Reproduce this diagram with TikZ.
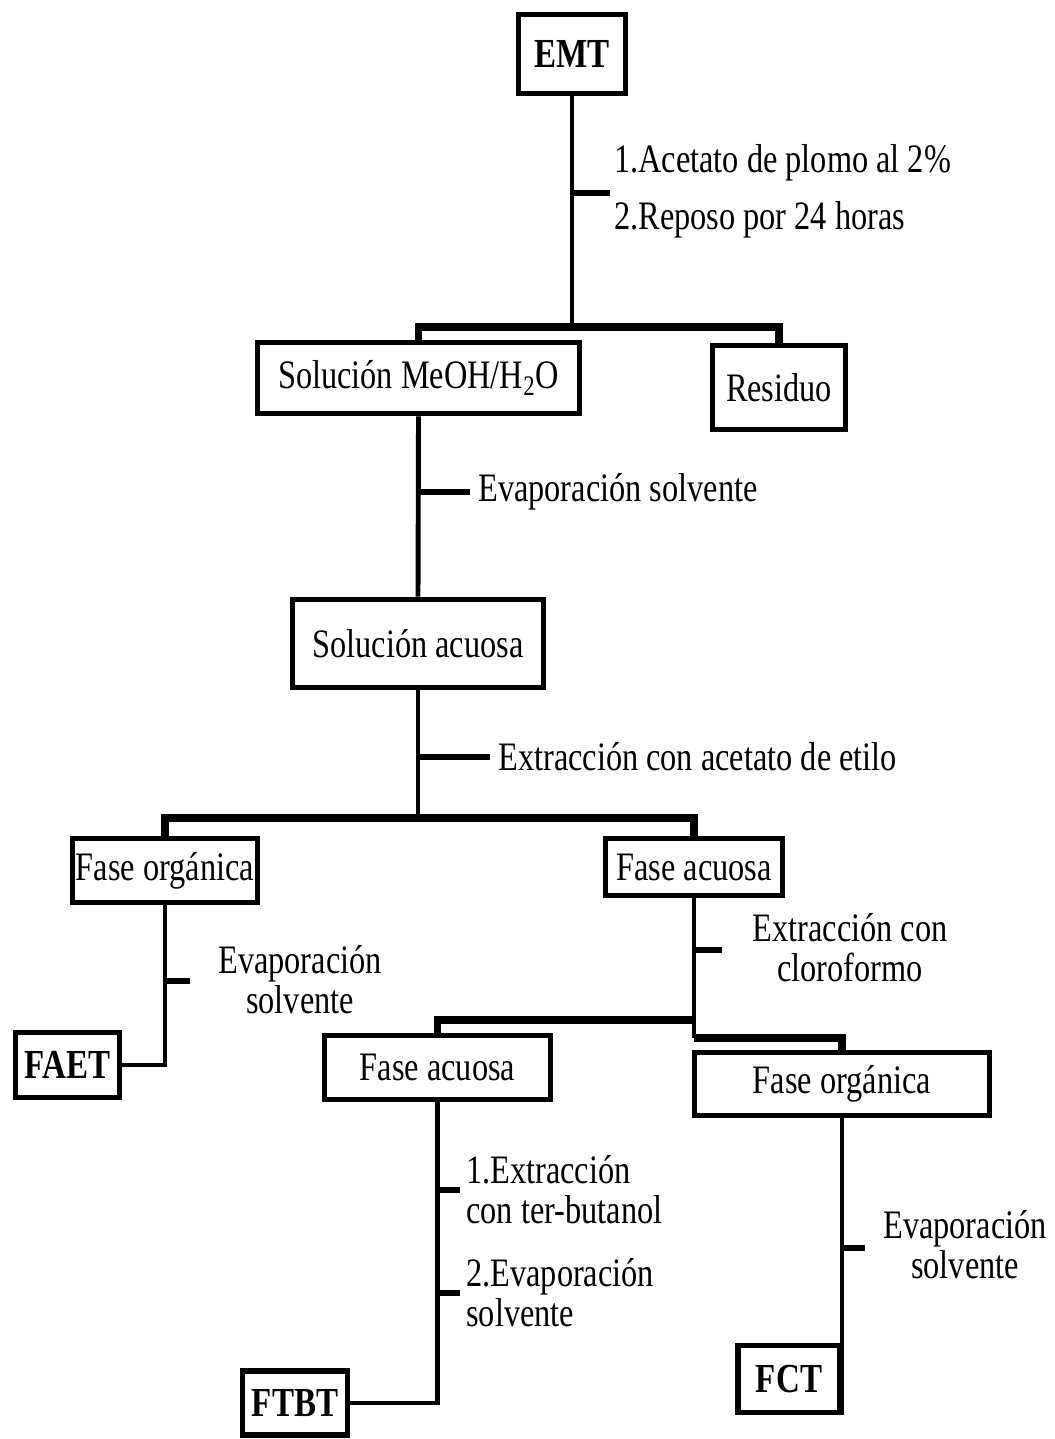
\documentclass[tikz,border=0pt]{standalone}
\usepackage{fontspec}
\setmainfont{Liberation Serif}[FakeStretch=0.80]
\usetikzlibrary{positioning}

\begin{document}
\begin{tikzpicture}[
        x=0.02cm, y=-0.02cm,
        box/.style={draw, rectangle, line width=3.2pt, inner sep=0pt, align=center},
        tag/.style={box, font=\fontsize{23.5}{25}\selectfont\bfseries},
        lbl/.style={inner sep=0pt, align=left},
        link/.style={line width=2.8pt},
        bar/.style={line width=4pt},
        tick/.style={line width=3.6pt},
        font=\fontsize{23}{22.7}\selectfont,
    ]
        \useasboundingbox (0,0) rectangle (1054,1439);

        % boxes
        \node[tag, minimum width=2.14cm, minimum height=1.58cm] (emt)  at (572,54)      {EMT};
        \node[box, minimum width=6.44cm, minimum height=1.42cm] (sol)  at (418.5,378)   {Solución MeOH/H\textsubscript{2}O};
        \node[box, minimum width=2.66cm, minimum height=1.68cm] (res)  at (779,387.5)   {Residuo};
        \node[box, minimum width=5.02cm, minimum height=1.76cm] (acu)  at (418,643.5)   {Solución acuosa};
        \node[box, minimum width=3.70cm, minimum height=1.28cm] (org1) at (165,870.5)   {Fase orgánica};
        \node[box, minimum width=3.54cm, minimum height=1.14cm] (acu1) at (694,867)     {Fase acuosa};
        \node[tag, minimum width=2.08cm, minimum height=1.30cm] (faet) at (67.5,1065)   {FAET};
        \node[box, minimum width=4.52cm, minimum height=1.28cm] (acu2) at (437.5,1067.5){Fase acuosa};
        \node[box, minimum width=5.90cm, minimum height=1.26cm] (org2) at (842,1084)    {Fase orgánica};
        \node[tag, minimum width=2.10cm, minimum height=1.28cm] (ftbt) at (295,1403)    {FTBT};
        \node[tag, minimum width=2.04cm, minimum height=1.34cm] (fct)  at (789,1379)    {FCT};

        % branch points
        \coordinate (j1) at (572,327);
        \coordinate (j2) at (418,818);
        \coordinate (j3) at (694,1020);
        \coordinate (j4) at (694,1038);

        % ticks
        \coordinate (t1) at (610,193);
        \coordinate (t2) at (470,492);
        \coordinate (t3) at (490,757);
        \coordinate (t4) at (190,981);
        \coordinate (t5) at (722,950);
        \coordinate (t6) at (460,1190);
        \coordinate (t7) at (460,1293);
        \coordinate (t8) at (865,1248);

        % labels
        \node[lbl, anchor=west] (l1a) at (614,163) {1.Acetato de plomo al 2\%};
        \node[lbl, anchor=west] (l1b) at (614,220) {2.Reposo por 24 horas};
        \node[lbl, right=0.16cm of t2]  (l2) {Evaporación solvente};
        \node[lbl, right=0.16cm of t3]  (l3) {Extracción con acetato de etilo};
        \node[lbl, align=center] (l4) at (300,980)  {Evaporación\\solvente};
        \node[lbl, align=center] (l5) at (850,948)  {Extracción con\\cloroformo};
        \node[lbl, right=0.12cm of t6]  (l6) {1.Extracción\\con ter-butanol};
        \node[lbl, right=0.12cm of t7]  (l7) {2.Evaporación\\solvente};
        \node[lbl, align=center] (l8) at (965,1245) {Evaporación\\solvente};

        % connectors
        \draw[link] (emt.south) -- (j1);
        \draw[bar]  (sol.north) |- (j1) -| (res.north);
        \draw[link] (sol.south) -- (acu.north);
        \draw[link] (acu.south) -- (j2);
        \draw[bar]  (org1.north) |- (j2) -| (acu1.north);
        \draw[link] (org1.south) |- (faet.east);
        \draw[link] (acu1.south) -- (j4);
        \draw[bar]  (acu2.north) |- (j3);
        \draw[bar]  (j4) -| (org2.north);
        \draw[link] (acu2.south) |- (ftbt.east);
        \draw[link] (org2.south) -- (org2.south |- fct.south);

        \draw[tick] (emt.south |- t1)  -- (t1);
        \draw[tick] (sol.south |- t2)  -- (t2);
        \draw[tick] (acu.south |- t3)  -- (t3);
        \draw[tick] (org1.south |- t4) -- (t4);
        \draw[tick] (acu1.south |- t5) -- (t5);
        \draw[tick] (acu2.south |- t6) -- (t6);
        \draw[tick] (acu2.south |- t7) -- (t7);
        \draw[tick] (org2.south |- t8) -- (t8);
    \end{tikzpicture}
\end{document}
